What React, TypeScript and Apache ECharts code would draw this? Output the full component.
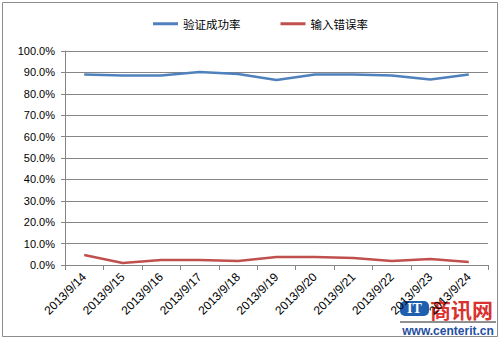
import React, { useEffect, useRef } from "react";
import * as echarts from "echarts";

const categories = [
  "2013/9/14", "2013/9/15", "2013/9/16", "2013/9/17", "2013/9/18", "2013/9/19",
  "2013/9/20", "2013/9/21", "2013/9/22", "2013/9/23", "2013/9/24",
];
const successRate = [0.89, 0.886, 0.886, 0.902, 0.893, 0.864, 0.89, 0.89, 0.886, 0.867, 0.89];
const errorRate = [0.047, 0.009, 0.023, 0.023, 0.019, 0.037, 0.037, 0.033, 0.019, 0.028, 0.014];
const seriesNames = ["验证成功率", "输入错误率"];

const FONT = "'Liberation Sans', 'Noto Sans CJK SC', sans-serif";

export default function App() {
  const ref = useRef<HTMLDivElement>(null);
  useEffect(() => {
    document.body.style.margin = "0";
    const chart = echarts.init(ref.current!, null, { renderer: "svg" });
    chart.setOption({
      animation: false,
      backgroundColor: "#ffffff",
      textStyle: { fontFamily: FONT },
      legend: {
        top: 18,
        left: 153,
        padding: 0,
        itemWidth: 25,
        itemHeight: 3,
        itemGap: 40,
        icon: "rect",
        textStyle: { fontSize: 11.5, color: "#000", fontFamily: "'Noto Sans CJK SC', sans-serif" },
        data: seriesNames,
      },
      grid: { left: 65, right: 12, top: 51, bottom: 75, containLabel: false },
      xAxis: {
        type: "category",
        data: categories,
        boundaryGap: true,
        axisLine: { show: true, lineStyle: { color: "#868686", width: 1 } },
        axisTick: { show: true, length: 5, interval: 0, lineStyle: { color: "#868686" } },
        axisLabel: { interval: 0, rotate: 45, fontSize: 12, color: "#000", margin: 10, fontFamily: FONT },
        splitLine: { show: false },
      },
      yAxis: {
        type: "value",
        min: 0,
        max: 1,
        interval: 0.1,
        axisLine: { show: true, lineStyle: { color: "#868686", width: 1 } },
        axisTick: { show: true, length: 4, lineStyle: { color: "#868686" } },
        axisLabel: {
          fontSize: 11,
          color: "#000",
          margin: 10,
          fontFamily: FONT,
          formatter: (v: number) => (v * 100).toFixed(1) + "%",
        },
        splitLine: { show: true, lineStyle: { color: "#868686", width: 1 } },
      },
      series: [
        {
          name: seriesNames[0],
          type: "line",
          data: successRate,
          symbol: "none",
          lineStyle: { color: "#4F81BD", width: 2.5 },
          itemStyle: { color: "#4F81BD" },
        },
        {
          name: seriesNames[1],
          type: "line",
          data: errorRate,
          symbol: "none",
          lineStyle: { color: "#C0504D", width: 2.5 },
          itemStyle: { color: "#C0504D" },
        },
      ],
      graphic: [
        {
          type: "rect",
          shape: { x: 2.5, y: 2.5, width: 495, height: 334 },
          style: { fill: "none", stroke: "#8c8c8c", lineWidth: 1 },
          z: 100,
        },
        {
          type: "group",
          z: 200,
          children: [
            { type: "rect", shape: { x: 400, y: 301, width: 29, height: 15, r: 5 }, style: { fill: "#1f5fb0" } },
            {
              type: "text",
              x: 414.5,
              y: 308.5,
              style: { text: "IT", fill: "#ffffff", font: "bold 14px 'Liberation Serif', serif", textAlign: "center", textVerticalAlign: "middle" },
            },
            {
              type: "text",
              x: 430,
              y: 308.5,
              style: { text: "商讯网", fill: "#d9322f", font: "bold 21px 'Noto Sans CJK SC', sans-serif", textAlign: "left", textVerticalAlign: "middle" },
            },
            { type: "line", shape: { x1: 400, y1: 322, x2: 496, y2: 322 }, style: { stroke: "#222", lineWidth: 1 } },
            {
              type: "text",
              x: 448,
              y: 331,
              style: { text: "www.centerit.cn", fill: "#1f4f9f", font: "bold 12px 'Liberation Sans', sans-serif", textAlign: "center", textVerticalAlign: "middle" },
            },
          ],
        },
      ],
    });
    return () => chart.dispose();
  }, []);
  return <div ref={ref} style={{ width: 500, height: 340 }} />;
}
